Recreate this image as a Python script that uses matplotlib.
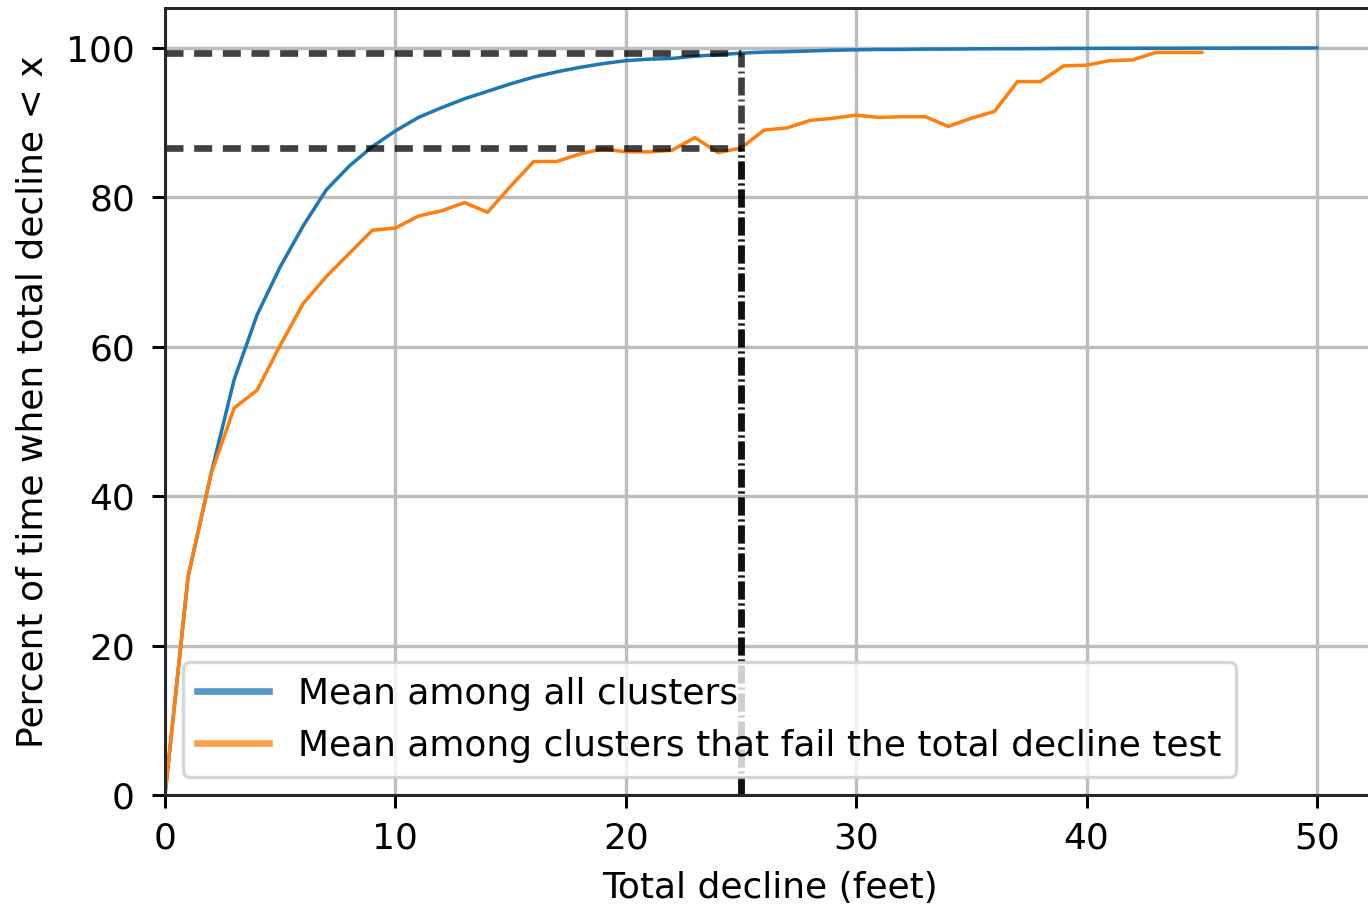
import numpy as np
import matplotlib
matplotlib.use("Agg")
import matplotlib.pyplot as plt

# cumulative share of time (percent) that total decline stays below x feet
decline_all = list(range(0, 51))
pct_all = [0, 29.2, 43.0, 55.6, 64.3, 70.7, 76.2, 81.0, 84.2, 86.8,
           88.9, 90.7, 92.0, 93.2, 94.2, 95.2, 96.1, 96.8, 97.4, 97.9,
           98.3, 98.5, 98.6, 98.9, 99.1, 99.3, 99.45, 99.5, 99.6, 99.7,
           99.75, 99.8, 99.8, 99.85, 99.85, 99.88, 99.9, 99.9, 99.92, 99.94,
           99.95, 99.96, 99.96, 99.97, 99.97, 99.98, 99.98, 99.99, 99.99, 100.0,
           100.0]

decline_fail = list(range(0, 46))
pct_fail = [0, 29.2, 43.0, 51.8, 54.2, 60.2, 65.8, 69.4, 72.5, 75.6,
            75.9, 77.5, 78.2, 79.3, 78.0, 81.5, 84.8, 84.8, 85.8, 86.5,
            86.1, 86.1, 86.3, 88.0, 86.0, 86.6, 89.0, 89.3, 90.3, 90.6,
            91.0, 90.7, 90.8, 90.8, 89.5, 90.6, 91.5, 95.5, 95.5, 97.6,
            97.7, 98.3, 98.4, 99.4, 99.4, 99.4]

# reference cut-off and the two percentiles read at it
cutoff = 25
level_all = 99.3
level_fail = 86.6

plt.rcParams['font.size'] = 10.8
plt.rcParams['axes.edgecolor'] = '#262626'

fig = plt.figure(figsize=(5.7, 3.775), dpi=240)
ax = fig.add_axes([165 / 1368, 111 / 906, 1209.6 / 1368, 787 / 906])

ax.plot(decline_all, pct_all, color='#1f77b4', lw=1.05, label='Mean among all clusters')
ax.plot(decline_fail, pct_fail, color='#ff7f0e', lw=1.05,
        label='Mean among clusters that fail the total decline test')

# guides at the cut-off
for lvl in (level_all, level_fail):
    ax.plot([0, cutoff], [lvl, lvl], color='k', alpha=0.75, lw=2,
            dashes=(2.7, 1.6), dash_capstyle='butt')
    ax.plot([cutoff, cutoff], [0, lvl], color='k', alpha=0.75, lw=2,
            dashes=(2.7, 0.6, 0.3, 0.6), dash_capstyle='butt')

ax.set_xlim(0, 52.5)
ax.set_ylim(0, 105.35)
ax.set_xticks([0, 10, 20, 30, 40, 50])
ax.set_yticks([0, 20, 40, 60, 80, 100])
ax.grid(True, color='#bdbdbd', lw=1)
ax.set_axisbelow(True)
for sp in ax.spines.values():
    sp.set_linewidth(0.9)
ax.tick_params(length=3.8, width=0.9)
ax.tick_params(axis='x', pad=4.2)
ax.tick_params(axis='y', pad=5.2)

ax.set_xlabel('Total decline (feet)', labelpad=4.5)
ax.set_ylabel('Percent of time when total decline < x', labelpad=5)

leg = ax.legend(loc='lower left')
for h in leg.legend_handles:
    h.set_linewidth(2)
    h.set_alpha(0.75)

fig.savefig('out.png', dpi=240)
